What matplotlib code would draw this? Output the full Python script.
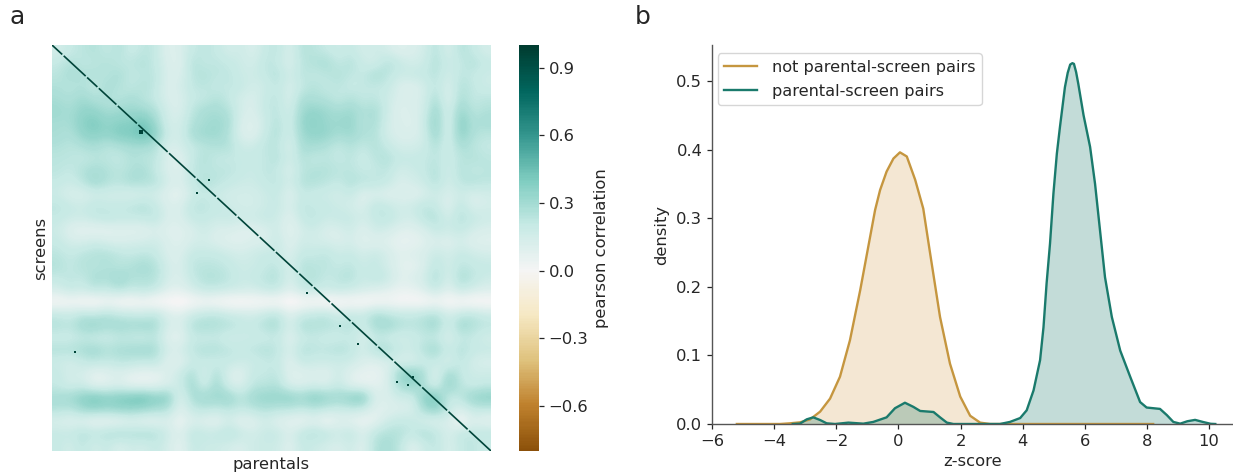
import numpy as np
import matplotlib
matplotlib.use("Agg")
import matplotlib.pyplot as plt
from matplotlib.colors import LinearSegmentedColormap, Normalize
from matplotlib.cm import ScalarMappable

# Panel a: block-averaged correlation (units of 1/70)
corr_rows = [
[10,14,16,18,14,18,12,16,15,6,8,14,16,14,10,12,8,14,16,8,18,16,14,12,14,10,12,10,6,8,10,18,8,18,14,10],
[14,18,15,16,18,15,16,18,14,8,6,18,14,16,14,12,10,16,14,8,16,18,20,14,18,12,10,18,14,10,12,18,12,14,18,14],
[16,20,18,18,16,20,14,16,16,8,8,16,18,15,16,12,12,14,18,10,17,14,16,18,15,14,20,16,12,14,14,17,10,16,14,12],
[18,16,18,14,20,17,15,18,15,7,10,15,16,14,15,14,10,12,15,9,14,18,14,16,13,15,14,14,8,6,10,16,8,18,15,12],
[20,18,22,18,18,16,20,16,14,8,8,14,14,18,14,10,8,14,16,8,20,18,18,14,18,14,16,12,8,8,10,20,6,20,14,16],
[22,20,24,24,20,22,22,22,18,10,8,16,20,20,18,10,8,14,16,10,22,24,22,20,22,18,20,12,6,8,10,24,8,24,16,18],
[20,20,26,28,24,26,26,30,22,10,10,18,20,22,20,8,6,12,18,10,24,26,22,22,24,16,20,10,8,6,12,26,6,28,18,20],
[20,18,24,26,24,28,28,32,26,12,10,20,22,22,18,8,6,14,18,10,22,24,24,20,22,18,18,10,8,8,10,24,8,26,18,16],
[18,16,18,20,16,18,20,20,18,8,10,14,16,18,18,12,12,16,16,8,20,20,18,14,18,14,18,14,10,10,12,18,10,20,16,14],
[16,16,14,16,16,14,18,16,16,8,6,14,18,14,14,14,14,14,18,10,18,14,16,14,16,12,16,18,14,14,14,16,12,16,18,16],
[16,14,18,20,18,16,18,20,14,8,6,16,16,16,16,14,12,16,14,8,16,18,18,16,16,14,14,16,10,12,14,18,10,18,14,16],
[14,12,16,22,18,16,20,18,18,10,8,14,18,16,14,12,12,14,16,10,18,18,16,14,18,16,16,14,8,10,12,18,10,16,18,16],
[12,8,8,10,10,10,8,10,10,6,4,12,14,12,10,10,10,12,14,6,14,12,12,10,14,6,8,6,8,6,8,12,8,12,8,10],
[16,14,12,16,14,14,16,18,14,8,8,16,16,14,12,10,10,12,14,8,16,14,14,12,10,8,16,14,10,12,16,14,6,16,8,10],
[14,12,12,14,16,14,14,14,16,8,8,14,14,12,14,12,12,14,12,6,14,16,12,14,14,10,14,16,12,10,16,18,10,18,14,12],
[12,6,4,4,4,6,5,6,8,6,6,8,12,8,8,6,6,8,12,4,10,12,8,8,12,6,12,10,6,6,8,14,12,14,10,8],
[14,10,10,12,10,8,10,10,12,8,6,10,10,8,6,6,8,8,14,6,12,10,10,8,10,6,6,6,4,4,6,8,6,10,6,6],
[16,14,16,18,18,16,14,16,14,8,8,14,14,14,12,10,12,14,12,8,14,14,16,12,14,10,14,10,6,8,8,14,10,14,12,10],
[18,14,18,16,18,16,18,20,18,10,8,16,16,16,14,12,12,14,16,8,18,16,16,14,16,12,14,10,6,4,8,16,10,16,14,14],
[14,16,14,20,18,22,18,18,18,10,8,14,18,18,16,12,14,16,18,8,16,18,14,16,18,12,16,14,6,8,10,20,8,20,16,12],
[10,14,12,16,14,18,14,16,14,6,6,10,14,14,12,12,10,14,14,6,14,14,12,14,12,10,8,6,4,4,8,14,6,14,10,8],
[-2,0,-2,-3,0,-2,-3,0,-4,-2,-4,-2,0,-2,-3,-4,-2,-3,-2,-4,-3,-2,-4,-3,-2,-3,-2,0,-2,-2,-3,0,-3,-2,-4,-3],
[14,12,16,14,18,14,14,12,16,8,6,12,14,16,12,12,10,14,16,6,12,14,16,10,14,12,20,16,14,14,16,18,10,14,16,12],
[18,16,22,24,20,22,20,22,20,10,8,18,20,18,18,14,14,18,20,8,20,18,18,16,18,12,20,22,18,16,18,22,10,22,18,16],
[12,12,14,12,12,14,14,12,16,6,4,14,12,14,10,12,12,12,14,6,12,14,12,12,14,8,14,12,10,12,14,14,8,14,14,10],
[18,18,20,22,18,20,20,22,20,10,10,16,18,18,16,14,16,18,16,8,18,16,16,18,16,10,18,20,14,12,18,22,12,18,14,14],
[12,10,14,16,14,16,16,14,16,6,6,12,14,12,14,12,12,14,14,6,14,12,12,12,12,8,6,10,8,8,12,14,8,16,10,8],
[14,10,10,4,6,8,5,4,4,8,12,20,8,20,8,6,14,14,16,6,6,8,6,12,6,4,4,6,24,26,20,6,22,14,12,12],
[14,10,12,5,6,8,4,4,5,8,12,22,10,22,10,8,16,16,18,8,8,10,8,14,6,4,5,8,20,24,18,8,26,16,12,14],
[20,22,26,30,26,28,30,32,26,28,6,20,22,22,24,16,22,24,24,26,22,28,24,22,26,30,8,8,12,10,26,30,12,16,24,26],
[18,16,22,24,22,24,24,22,20,18,6,14,16,14,16,14,16,18,16,16,14,16,14,12,14,12,6,6,8,8,20,26,14,8,14,14],
[8,6,6,2,3,3,6,4,4,8,2,8,6,4,10,4,6,10,6,4,2,6,0,6,4,2,4,12,14,14,8,6,10,-2,8,4],
[14,14,18,16,18,20,18,20,18,12,6,16,14,14,18,14,10,14,14,8,16,18,16,12,16,8,16,18,18,14,20,16,8,16,14,16],
[14,10,16,10,14,8,12,10,14,10,4,14,12,12,10,8,12,12,12,6,14,12,10,8,12,6,18,20,16,6,12,16,8,14,16,12],
]
# Runs of dark diagonal cells and isolated high-correlation cells (parental, screen index out of 300)
diagonal_runs = [(0,7),(8,23),(24,31),(32,44),(45,58),(59,79),(80,98),(99,112),(113,126),
                 (127,141),(142,152),(153,168),(169,178),(179,190),(191,204),(205,222),(223,233),
                 (234,252),(253,270),(271,284),(285,300)]
offdiag_x = [99,107,174,197,209,236,243,247,16]
offdiag_y = [109,100,183,208,221,249,251,245,227]
cbar_ticks = [-0.6,-0.3,0.0,0.3,0.6,0.9]

# Panel b: density curves
not_pair_x = [-5.2,-4.5,-3.81,-3.49,-3.17,-2.84,-2.52,-2.20,-1.88,-1.56,-1.23,-0.91,-0.75,-0.59,-0.38,-0.16,
              0.05,0.27,0.54,0.80,1.02,1.34,1.66,1.99,2.31,2.63,2.95,3.5,5.0,8.2]
not_pair_y = [0,0,0,0.001,0.0024,0.0068,0.018,0.037,0.069,0.122,0.195,0.273,0.312,0.341,0.368,0.387,
              0.396,0.390,0.356,0.314,0.249,0.156,0.088,0.040,0.012,0.002,0,0,0,0]
pair_x = [-3.4,-3.17,-2.95,-2.74,-2.52,-2.31,-2.04,-1.61,-1.13,-0.81,-0.38,-0.11,0.21,0.48,0.70,1.13,1.34,1.56,1.77,
          2.5,3.27,3.59,3.92,4.13,4.35,4.56,4.67,4.77,4.88,4.99,5.10,5.20,5.36,5.45,5.53,5.6,5.65,5.72,5.79,5.96,6.17,6.33,
          6.49,6.65,6.87,7.14,7.46,7.78,7.99,8.42,8.64,8.85,9.07,9.3,9.55,9.8,10.05,10.2]
pair_y = [0,0.0005,0.0068,0.0097,0.0058,0.001,0,0.002,0.0005,0.003,0.0097,0.023,0.031,0.025,0.019,0.0175,0.0097,0.002,0,
          0,0,0.003,0.0087,0.020,0.049,0.093,0.141,0.205,0.263,0.336,0.394,0.433,0.491,0.512,0.524,0.526,0.525,0.513,0.496,0.450,0.404,0.350,
          0.282,0.214,0.156,0.107,0.069,0.032,0.024,0.022,0.013,0.003,0.0005,0.004,0.006,0.003,0.0003,0]
legend_labels = ["not parental-screen pairs","parental-screen pairs"]

W, H = 1233, 473
fig = plt.figure(figsize=(W/100, H/100), dpi=100)
def axpx(x0, y0, x1, y1):
    return fig.add_axes([x0/W, 1-y1/H, (x1-x0)/W, (y1-y0)/H])

TXT = "#262626"
FS = 11.8
base = plt.get_cmap("BrBG")
cmap = LinearSegmentedColormap.from_list("cropped", base(np.linspace(0.1, 1.0, 256)))
norm = Normalize(-0.8, 1.0)

ax = axpx(52, 45, 491, 451)
ax.imshow(np.array(corr_rows)/70, cmap=cmap, norm=norm, aspect="auto", extent=(0,300,300,0), interpolation="bicubic")
dark = base(0.98)
for a, b in diagonal_runs:
    ax.plot([a,b],[a,b],color=dark,lw=1.2,solid_capstyle="butt")
ax.plot(offdiag_x, offdiag_y, ls="none", marker="s", ms=1.8, color=dark, mew=0)
ax.plot([61],[64],ls="none",marker="s",ms=3.2,color=dark,mew=0)
ax.set_xlim(0,300); ax.set_ylim(300,0)
ax.set_xticks([]); ax.set_yticks([])
for s in ax.spines.values(): s.set_visible(False)
ax.set_xlabel("parentals", fontsize=FS, color=TXT, labelpad=4)
ax.set_ylabel("screens", fontsize=FS, color=TXT, labelpad=3)

cax = axpx(519, 45, 539, 451)
cb = fig.colorbar(ScalarMappable(norm=norm, cmap=cmap), cax=cax)
cb.set_ticks(cbar_ticks)
cb.outline.set_visible(False)
cb.ax.tick_params(labelsize=FS, length=3.5, width=0.9, colors=TXT)
cb.set_label("pearson correlation", fontsize=FS, color=TXT, labelpad=4)

bx = axpx(712, 45, 1233, 424)
tan, teal = "#c5963f", "#1a7a6c"
bx.plot(not_pair_x, not_pair_y, color=tan, lw=1.7, label=legend_labels[0])
bx.fill_between(not_pair_x, not_pair_y, color="#d9a95f", alpha=0.27, lw=0)
bx.plot(pair_x, pair_y, color=teal, lw=1.7, label=legend_labels[1])
bx.fill_between(pair_x, pair_y, color="#1a7a6c", alpha=0.26, lw=0)
bx.set_xlim(-6, 10.77); bx.set_ylim(0, 0.5525)
bx.set_xticks(range(-6,11,2)); bx.set_yticks([0,0.1,0.2,0.3,0.4,0.5])
bx.set_yticklabels(["0.0","0.1","0.2","0.3","0.4","0.5"])
bx.tick_params(labelsize=FS, length=3.5, width=0.9, colors=TXT)
bx.spines["top"].set_visible(False); bx.spines["right"].set_visible(False)
for s in ("left","bottom"):
    bx.spines[s].set_color("#555555"); bx.spines[s].set_linewidth(1.0)
bx.set_xlabel("z-score", fontsize=FS, color=TXT, labelpad=4)
bx.set_ylabel("density", fontsize=FS, color=TXT, labelpad=5)
bx.legend(loc="upper left", bbox_to_anchor=(0.0115, 0.978), fontsize=11.65, labelcolor=TXT, borderaxespad=0, handletextpad=0.92, labelspacing=0.55)

fig.text(17/W, 1-17/H, "a", fontsize=18, color=TXT, ha="center", va="center")
fig.text(643/W, 1-17/H, "b", fontsize=18, color=TXT, ha="center", va="center")
fig.savefig("out.png", dpi=100)
